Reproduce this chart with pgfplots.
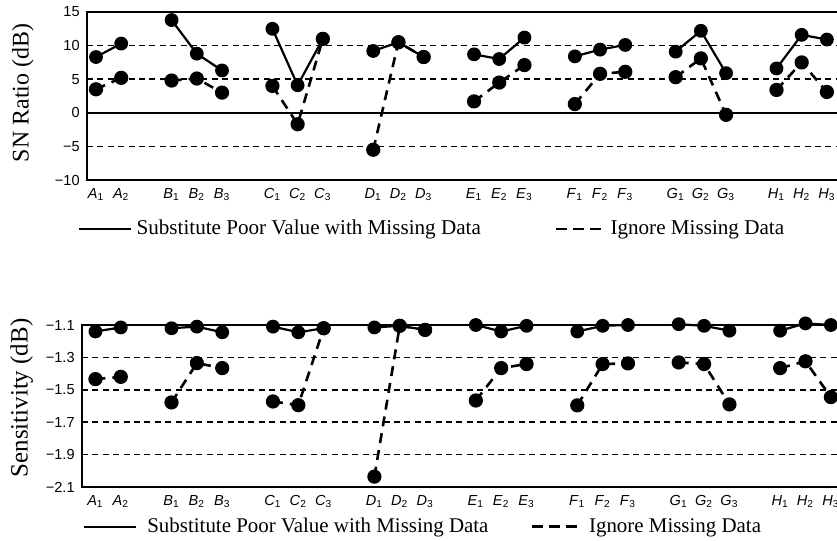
\documentclass[border=0pt]{standalone}
\usepackage{fontspec}
\setmainfont{Liberation Serif}
\setsansfont{Liberation Sans}
\usepackage{pgfplots}
\usepackage{pgfplotstable}
\pgfplotsset{compat=1.18}

% x position: index of level; the nan rows separate the factors (no line between groups)
\pgfplotstableread{
x sol dash
0 8.3 3.5
1 10.3 5.2
2 nan nan
3 13.8 4.8
4 8.8 5.1
5 6.3 3.0
6 nan nan
7 12.5 4.0
8 4.1 -1.7
9 11.0 11.0
10 nan nan
11 9.2 -5.5
12 10.5 10.5
13 8.3 8.3
14 nan nan
15 8.7 1.7
16 8.0 4.5
17 11.2 7.1
18 nan nan
19 8.4 1.3
20 9.4 5.8
21 10.1 6.1
22 nan nan
23 9.1 5.3
24 12.2 8.1
25 5.9 -0.3
26 nan nan
27 6.6 3.4
28 11.6 7.5
29 10.9 3.1
}\snratio

\pgfplotstableread{
x sol dash
0 -1.14 -1.434
1 -1.115 -1.42
2 nan nan
3 -1.12 -1.578
4 -1.11 -1.335
5 -1.145 -1.366
6 nan nan
7 -1.11 -1.572
8 -1.145 -1.595
9 -1.12 -1.12
10 nan nan
11 -1.115 -2.036
12 -1.105 -1.105
13 -1.13 -1.13
14 nan nan
15 -1.10 -1.566
16 -1.14 -1.366
17 -1.105 -1.341
18 nan nan
19 -1.14 -1.596
20 -1.105 -1.341
21 -1.10 -1.337
22 nan nan
23 -1.095 -1.331
24 -1.105 -1.341
25 -1.135 -1.59
26 nan nan
27 -1.135 -1.366
28 -1.09 -1.324
29 -1.10 -1.545
}\sens

\def\xlabs{\textit{A}\textsubscript{1},\textit{A}\textsubscript{2},
\textit{B}\textsubscript{1},\textit{B}\textsubscript{2},\textit{B}\textsubscript{3},
\textit{C}\textsubscript{1},\textit{C}\textsubscript{2},\textit{C}\textsubscript{3},
\textit{D}\textsubscript{1},\textit{D}\textsubscript{2},\textit{D}\textsubscript{3},
\textit{E}\textsubscript{1},\textit{E}\textsubscript{2},\textit{E}\textsubscript{3},
\textit{F}\textsubscript{1},\textit{F}\textsubscript{2},\textit{F}\textsubscript{3},
\textit{G}\textsubscript{1},\textit{G}\textsubscript{2},\textit{G}\textsubscript{3},
\textit{H}\textsubscript{1},\textit{H}\textsubscript{2},\textit{H}\textsubscript{3}}

\pgfplotsset{
  panel/.style={
    scale only axis, clip=false,
    unbounded coords=jump,
    axis line style={line width=1.1bp},
    major tick length=0pt,
    xtick={0,1,3,4,5,7,8,9,11,12,13,15,16,17,19,20,21,23,24,25,27,28,29},
    xticklabels/.expand once={\xlabs},
    ticklabel style={font=\sffamily\fontsize{7.3}{8}\selectfont},
    xticklabel style={inner sep=0pt, yshift=-4bp},
    yticklabel style={inner sep=0pt, xshift=-3.5bp},
    legend columns=2,
    legend cell align=left,
  },
  grid line/.style={forget plot, line width=0.8bp, dash pattern=on 3bp off 2.2bp, mark=none},
  subst/.style={black, line width=1.1bp, mark=*, mark size=2.9bp,
    legend image code/.code={\draw[black, line width=1.1bp] (0bp,0bp) -- (26bp,0bp);}},
  ignore/.style={black, line width=1.3bp, dash pattern=on 5bp off 3.5bp, mark=*, mark size=2.9bp,
    mark options={solid},
    legend image code/.code={\draw[black, line width=1.3bp, dash pattern=on 5.5bp off 3bp] (0bp,0bp) -- (22.5bp,0bp);}},
}

\begin{document}
\begin{tikzpicture}
% ---------------- top panel: SN ratio ----------------
\begin{axis}[panel,
  at={(43.5bp,-6bp)}, anchor=north west,
  width=377bp, height=84bp,
  xmin=-0.357, xmax=29.56, ymin=-10, ymax=15,
  ytick={-10,-5,0,5,10,15},
  yticklabels={−10,−5,0,5,10,15},
  ylabel={SN Ratio (dB)},
  ylabel style={at={(axis description cs:-0.085,0.518)}, anchor=center,
    font=\fontsize{12}{14}\selectfont},
  legend style={at={(axis description cs:-0.012,-0.292)}, anchor=west,
    draw=none, fill=none, inner sep=0pt, font=\fontsize{10.6}{12}\selectfont,
    nodes={inner sep=0pt},
    /tikz/every even column/.append style={column sep=37bp}},
]
\addplot[grid line] coordinates {(-0.357,10) (29.56,10)};
\addplot[grid line] coordinates {(-0.357,5) (29.56,5)};
\addplot[grid line] coordinates {(-0.357,-5) (29.56,-5)};
\addplot[forget plot, line width=1bp, mark=none] coordinates {(-0.357,0) (29.56,0)};
\addplot[subst] table[x=x, y=sol] {\snratio};
\addlegendentry{\hspace{2bp}Substitute Poor Value with Missing Data}
\addplot[ignore] table[x=x, y=dash] {\snratio};
\addlegendentry{\hspace{4bp}Ignore Missing Data}
\end{axis}

% ---------------- bottom panel: sensitivity ----------------
\begin{axis}[panel,
  at={(41bp,-162.5bp)}, anchor=north west,
  width=379.5bp, height=81bp,
  xmin=-0.53, xmax=29.4, ymin=-2.1, ymax=-1.1,
  ytick={-2.1,-1.9,-1.7,-1.5,-1.3,-1.1},
  yticklabels={−2.1,−1.9,−1.7,−1.5,−1.3,−1.1},
  ylabel={Sensitivity (dB)},
  ylabel style={at={(axis description cs:-0.0795,0.55)}, anchor=center,
    font=\fontsize{12.5}{14}\selectfont},
  legend style={at={(axis description cs:0.001,-0.245)}, anchor=west,
    draw=none, fill=none, inner sep=0pt, font=\fontsize{10.5}{12}\selectfont,
    nodes={inner sep=0pt},
    /tikz/every even column/.append style={column sep=21bp}},
]
\addplot[grid line] coordinates {(-0.53,-1.3) (29.4,-1.3)};
\addplot[grid line] coordinates {(-0.53,-1.5) (29.4,-1.5)};
\addplot[grid line] coordinates {(-0.53,-1.7) (29.4,-1.7)};
\addplot[grid line] coordinates {(-0.53,-1.9) (29.4,-1.9)};
\addplot[subst] table[x=x, y=sol] {\sens};
\addlegendentry{\hspace{5bp}Substitute Poor Value with Missing Data}
\addplot[ignore] table[x=x, y=dash] {\sens};
\addlegendentry{\hspace{5.5bp}Ignore Missing Data}
\end{axis}

\pgfresetboundingbox
\path[use as bounding box] (0bp,0bp) rectangle (418.5bp,-270.5bp);
\end{tikzpicture}
\end{document}
